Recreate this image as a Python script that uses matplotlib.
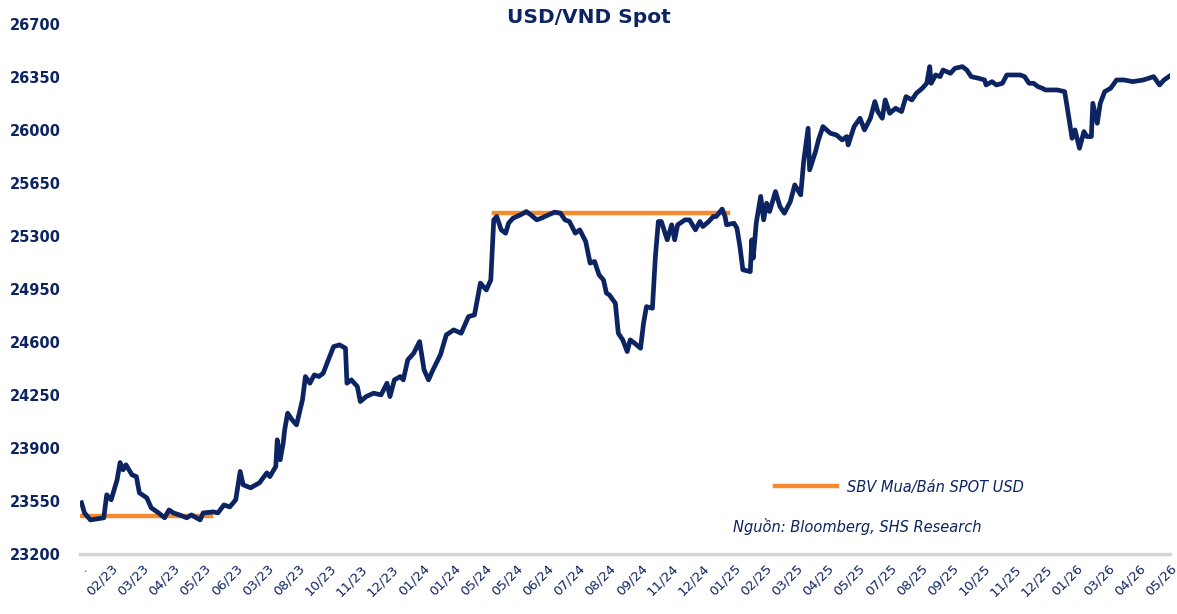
import matplotlib
matplotlib.use("Agg")
import matplotlib.pyplot as plt
from matplotlib.lines import Line2D

NAVY = "#0c2461"
ORANGE = "#f58a2e"

# trading-session index of each reading (one tick every 21 sessions)
sessions = [
    1, 3, 7, 16, 18, 21, 25, 27, 29, 31, 35, 38, 40, 45, 48, 53, 57, 60, 63, 67,
    72, 75, 81, 83, 90, 93, 97, 101, 105, 108, 110, 115, 121, 126, 128, 132, 133, 135, 137, 138,
    140, 143, 146, 150, 152, 155, 158, 161, 164, 167, 171, 175, 179, 180, 183, 187, 189, 193, 198, 203,
    207, 209, 212, 216, 218, 221, 225, 229, 232, 235, 238, 243, 247, 252, 257, 262, 266, 270, 274, 277,
    279, 281, 284, 287, 289, 292, 297, 301, 304, 308, 311, 316, 320, 324, 327, 330, 334, 337, 341, 344,
    347, 350, 353, 355, 357, 361, 363, 366, 369, 371, 374, 378, 380, 382, 386, 388, 390, 392, 396, 399,
    401, 403, 408, 411, 415, 418, 420, 424, 427, 429, 433, 435, 436, 441, 443, 445, 447, 452, 453, 454,
    456, 459, 461, 463, 465, 469, 472, 475, 479, 482, 486, 488, 491, 492, 496, 498, 501, 506, 510, 514,
    517, 518, 522, 526, 529, 533, 536, 538, 541, 543, 546, 550, 554, 557, 561, 564, 568, 571, 573, 574,
    577, 580, 582, 587, 590, 595, 598, 601, 606, 610, 611, 615, 618, 622, 625, 629, 634, 637, 640, 643,
    646, 649, 651, 654, 659, 664, 666, 669, 671, 674, 677, 679, 682, 683, 686, 688, 691, 695, 699, 704,
    710, 717, 724, 728, 731, 735,
]

usd_vnd = [
    23537, 23470, 23424, 23438, 23590, 23557, 23689, 23803, 23755, 23788, 23722, 23710, 23603, 23570, 23504, 23470, 23438, 23490, 23470, 23457,
    23438, 23457, 23424, 23470, 23477, 23470, 23523, 23510, 23557, 23744, 23656, 23636, 23669, 23735, 23710, 23777, 23953, 23821, 23931, 24019,
    24129, 24085, 24052, 24217, 24371, 24327, 24382, 24371, 24393, 24470, 24569, 24580, 24558, 24327, 24349, 24305, 24206, 24239, 24261, 24250,
    24327, 24239, 24349, 24371, 24349, 24481, 24525, 24602, 24415, 24349, 24415, 24514, 24646, 24679, 24657, 24767, 24778, 24988, 24943, 25009,
    25406, 25428, 25340, 25318, 25384, 25417, 25439, 25461, 25439, 25406, 25417, 25439, 25457, 25450, 25406, 25395, 25318, 25340, 25263, 25120,
    25131, 25043, 25009, 24922, 24910, 24855, 24657, 24613, 24536, 24613, 24591, 24558, 24723, 24833, 24822, 25164, 25395, 25395, 25274, 25373,
    25274, 25373, 25406, 25406, 25340, 25395, 25362, 25395, 25428, 25428, 25477, 25428, 25373, 25384, 25351, 25230, 25076, 25064, 25274, 25153,
    25384, 25561, 25406, 25516, 25461, 25593, 25494, 25450, 25527, 25637, 25571, 25791, 26011, 25736, 25857, 25934, 26022, 25978, 25967, 25934,
    25956, 25901, 26022, 26077, 26000, 26077, 26187, 26121, 26077, 26198, 26110, 26143, 26121, 26220, 26198, 26242, 26275, 26308, 26418, 26308,
    26363, 26352, 26396, 26374, 26407, 26418, 26396, 26352, 26341, 26330, 26297, 26319, 26297, 26308, 26363, 26363, 26363, 26352, 26308, 26308,
    26286, 26275, 26264, 26264, 26264, 26253, 26132, 25945, 26000, 25879, 25989, 25956, 25956, 26176, 26044, 26176, 26253, 26275, 26330, 26330,
    26319, 26330, 26352, 26297, 26330, 26357,
]

# SBV buy/sell spot rate periods: (start session, end session, rate)
sbv_periods = [(0, 88, 23450), (279, 437, 25450)]

tick_labels = [
    ".", "02/23", "03/23", "04/23", "05/23", "06/23", "03/23", "08/23", "10/23", "11/23",
    "12/23", "01/24", "01/24", "05/24", "05/24", "06/24", "07/24", "08/24", "09/24", "11/24",
    "12/24", "01/25", "02/25", "03/25", "04/25", "05/25", "07/25", "08/25", "09/25", "10/25",
    "11/25", "12/25", "01/26", "03/26", "04/26", "05/26",
]
tick_step = 21
y_ticks = [23200, 23550, 23900, 24250, 24600, 24950, 25300, 25650, 26000, 26350, 26700]

fig = plt.figure(figsize=(11.77, 6.14), dpi=100)
ax = fig.add_axes([0.068, 0.098, 0.926, 0.863])

ax.plot(sessions, usd_vnd, color=NAVY, linewidth=3.4, solid_joinstyle="round", zorder=3)
for start, end, rate in sbv_periods:
    ax.plot([start, end], [rate, rate], color=ORANGE, linewidth=3.2, zorder=2)

ax.set_xlim(0, tick_step * (len(tick_labels) - 1))
ax.set_ylim(y_ticks[0], y_ticks[-1])
ax.set_yticks(y_ticks)
ax.set_yticklabels([str(v) for v in y_ticks], fontsize=10.5, fontweight="bold", color=NAVY)
ax.set_xticks([i * tick_step for i in range(len(tick_labels))])
ax.set_xticklabels(tick_labels, rotation=45, ha="right", rotation_mode="anchor",
                   fontsize=9.5, color=NAVY)
ax.tick_params(axis="y", length=0, pad=14)
ax.tick_params(axis="x", length=0, pad=6)

for side in ["left", "right", "top"]:
    ax.spines[side].set_visible(False)
ax.spines["bottom"].set_color("#d5d5d5")
ax.spines["bottom"].set_linewidth(2.5)

fig.text(0.5, 0.971, "USD/VND Spot", fontsize=14.5, fontweight="bold", color=NAVY,
         ha="center", va="center")

handle = Line2D([], [], color=ORANGE, linewidth=3.2)
leg = ax.legend([handle], ["SBV Mua/Bán SPOT USD"], loc="center left",
                bbox_to_anchor=(0.638, 0.126), frameon=False, borderpad=0,
                borderaxespad=0, handlelength=4.2, handletextpad=0.7,
                prop={"size": 10.5, "style": "italic"})
for text in leg.get_texts():
    text.set_color(NAVY)

fig.text(0.623, 0.143, "Nguồn: Bloomberg, SHS Research", fontsize=10.5,
         style="italic", color=NAVY, va="center")

fig.savefig("out.png", dpi=100)
